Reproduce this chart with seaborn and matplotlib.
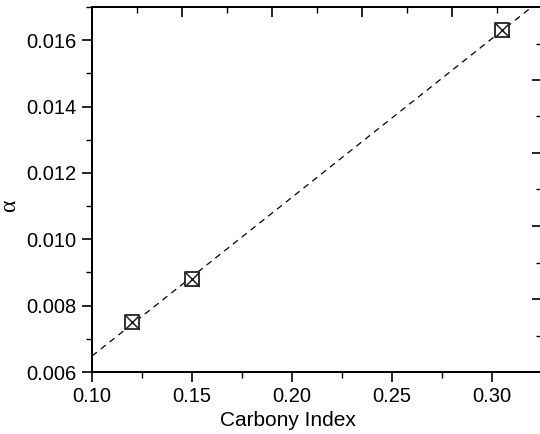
import matplotlib
matplotlib.use("Agg")
import matplotlib.pyplot as plt
from matplotlib.ticker import MultipleLocator
import seaborn as sns
import pandas as pd

# values
carbony_index = [0.12, 0.15, 0.305]
alpha_values = [0.0075, 0.0088, 0.0163]

df = pd.DataFrame({"carbony": carbony_index, "alpha": alpha_values})

sns.set_style("ticks")
plt.rcParams["font.family"] = ["Liberation Sans", "DejaVu Sans"]
plt.rcParams["axes.labelcolor"] = "black"
plt.rcParams["text.color"] = "black"

W, H = 540, 434
fig = plt.figure(figsize=(W / 100, H / 100), dpi=100)
# axes frame: left 92px, right 542px (just past the image edge), top 7px, bottom 372px
ax = fig.add_axes([92 / W, (H - 372) / H, 450 / W, 365 / H])

ax.set_xlim(0.10, 0.325)
ax.set_ylim(0.006, 0.017)

# dashed linear fit across the whole axis
sns.regplot(data=df, x="carbony", y="alpha", ax=ax, scatter=False, ci=None,
            truncate=False,
            line_kws=dict(color="black", lw=0.9, ls=(0, (5, 4))))

# boxed-cross markers
sns.scatterplot(data=df, x="carbony", y="alpha", ax=ax, marker="s", s=110,
                facecolor="white", edgecolor="#222222", linewidth=1.3, zorder=3)
sns.scatterplot(data=df, x="carbony", y="alpha", ax=ax, marker="x", s=110,
                color="#222222", linewidth=1.1, zorder=4)

ax.set_xlim(0.10, 0.325)
ax.set_ylim(0.006, 0.017)
ax.xaxis.set_major_locator(MultipleLocator(0.05))
ax.xaxis.set_minor_locator(MultipleLocator(0.025))
ax.yaxis.set_major_locator(MultipleLocator(0.002))
ax.yaxis.set_minor_locator(MultipleLocator(0.001))
ax.xaxis.set_major_formatter(plt.FormatStrFormatter("%.2f"))
ax.yaxis.set_major_formatter(plt.FormatStrFormatter("%.3f"))
ax.tick_params(which="major", direction="out", length=7, width=1.2,
               labelsize=14.5, pad=4, colors="black")
ax.tick_params(which="minor", direction="out", length=4, width=1.0, colors="black")
for sp in ax.spines.values():
    sp.set_linewidth(1.4)
    sp.set_color("black")

ax.set_xlabel("Carbony Index", fontsize=15, color="black")
ax.xaxis.set_label_coords((288 - 92) / 450, -(411 - 372) / 365)
ax.set_ylabel("α", fontsize=17, color="black",
              family=["Liberation Serif", "DejaVu Serif"])
ax.yaxis.set_label_coords(-(92 - 20) / 450, (372 - 206) / 365)

# top and right frame axes with inward ticks, no labels
top = ax.twiny()
top.set_xlim(0, 1)
top.xaxis.set_major_locator(MultipleLocator(0.2))
top.xaxis.set_minor_locator(MultipleLocator(0.1))
top.tick_params(axis="x", which="major", direction="in", length=7, width=1.2,
                labeltop=False, labelbottom=False, colors="black")
top.tick_params(axis="x", which="minor", direction="in", length=4, width=1.0,
                colors="black")

right = ax.twinx()
right.set_ylim(0, 1)
right.yaxis.set_major_locator(MultipleLocator(0.2))
right.yaxis.set_minor_locator(MultipleLocator(0.1))
right.tick_params(axis="y", which="major", direction="in", length=7, width=1.2,
                  labelright=False, labelleft=False, colors="black")
right.tick_params(axis="y", which="minor", direction="in", length=4, width=1.0,
                  colors="black")
for a in (top, right):
    for sp in a.spines.values():
        sp.set_linewidth(1.4)
        sp.set_color("black")

fig.savefig("out.png", dpi=100)
